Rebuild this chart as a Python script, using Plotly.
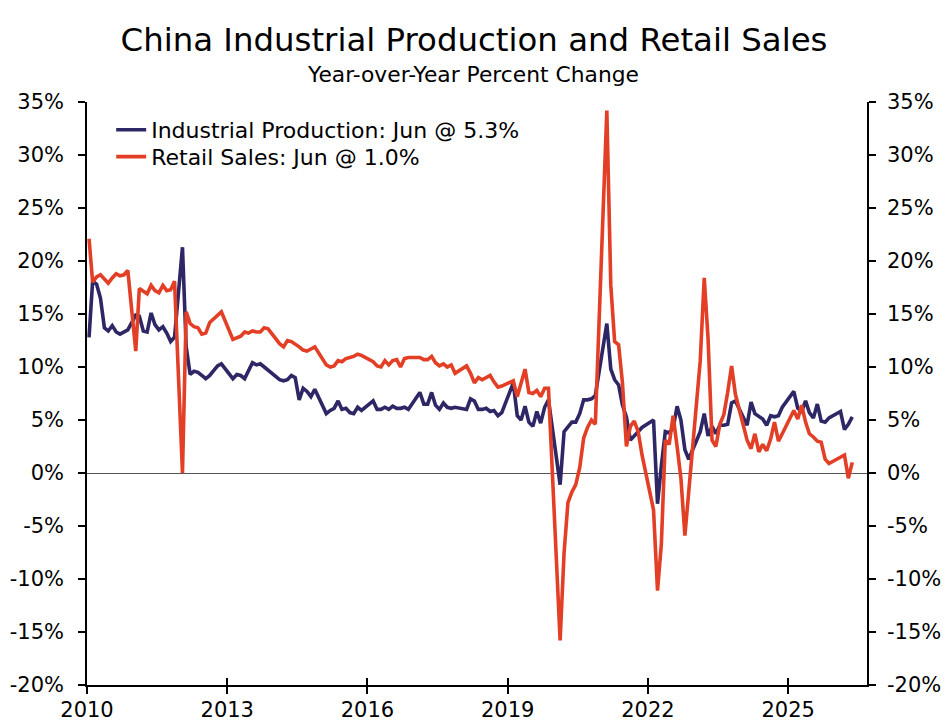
import pandas as pd
import plotly.graph_objects as go

# monthly observations, Jan 2010 .. Jun 2026 (None = not reported)
months = pd.date_range("2010-01-01", "2026-06-01", freq="MS")

industrial_production = [
    None, 12.8, 18.1, 17.8, 16.5, 13.7, 13.4, 13.9, 13.3, 13.1, 13.3, 13.5,  # 2010
    None, 14.9, 14.8, 13.4, 13.3, 15.1, 14.0, 13.5, 13.8, 13.2, 12.4, 12.8,  # 2011
    None, 21.3, 11.9, 9.3, 9.6, 9.5, 9.2, 8.9, 9.2, 9.6, 10.1, 10.3,  # 2012
    None, None, 8.9, 9.3, 9.2, 8.9, 9.7, 10.4, 10.2, 10.3, 10.0, 9.7,  # 2013
    None, None, 8.8, 8.7, 8.8, 9.2, 9.0, 6.9, 8.0, 7.7, 7.2, 7.9,  # 2014
    None, None, 5.6, 5.9, 6.1, 6.8, 6.0, 6.1, 5.7, 5.6, 6.2, 5.9,  # 2015
    None, None, 6.8, 6.0, 6.0, 6.2, 6.0, 6.3, 6.1, 6.1, 6.2, 6.0,  # 2016
    None, None, 7.6, 6.5, 6.5, 7.6, 6.4, 6.0, 6.6, 6.2, 6.1, 6.2,  # 2017
    None, None, 6.0, 7.0, 6.8, 6.0, 6.0, 6.1, 5.8, 5.9, 5.4, 5.7,  # 2018
    None, None, 8.5, 5.4, 5.0, 6.3, 4.8, 4.4, 5.8, 4.7, 6.2, 6.9,  # 2019
    None, None, -1.1, 3.9, 4.4, 4.8, 4.8, 5.6, 6.9, 6.9, 7.0, 7.3,  # 2020
    None, None, 14.1, 9.8, 8.8, 8.3, 6.4, 5.3, 3.1, 3.5, 3.8, 4.3,  # 2021
    None, None, 5.0, -2.9, 0.7, 3.9, 3.8, 4.2, 6.3, 5.0, 2.2, 1.3,  # 2022
    None, None, 3.9, 5.6, 3.5, 4.4, 3.7, 4.5, 4.5, 4.6, 6.6, 6.8,  # 2023
    None, None, 4.5, 6.7, 5.6, 5.3, 5.1, 4.5, 5.4, 5.3, 5.4, 6.2,  # 2024
    None, None, 7.7, 6.1, 5.8, 6.8, 5.7, 5.2, 6.5, 4.9, 4.8, 5.2,  # 2025
    None, None, 5.8, 4.1, 4.6, 5.3,  # 2026
]

retail_sales = [
    None, 22.1, 18.0, 18.5, 18.7, 18.3, 17.9, 18.4, 18.8, 18.6, 18.7, 19.1,  # 2010
    None, 11.5, 17.4, 17.1, 16.9, 17.7, 17.2, 17.0, 17.7, 17.2, 17.3, 18.1,  # 2011
    None, 0.0, 15.2, 14.1, 13.8, 13.7, 13.1, 13.2, 14.2, 14.5, 14.9, 15.2,  # 2012
    None, None, 12.6, 12.8, 12.9, 13.3, 13.2, 13.4, 13.3, 13.3, 13.7, 13.6,  # 2013
    None, None, 12.2, 11.9, 12.5, 12.4, 12.2, 11.9, 11.6, 11.5, 11.7, 11.9,  # 2014
    None, None, 10.2, 10.0, 10.1, 10.6, 10.5, 10.8, 10.9, 11.0, 11.2, 11.1,  # 2015
    None, None, 10.5, 10.1, 10.0, 10.6, 10.2, 10.6, 10.7, 10.0, 10.8, 10.9,  # 2016
    None, None, 10.9, 10.7, 10.7, 11.0, 10.4, 10.1, 10.3, 10.0, 10.2, 9.4,  # 2017
    None, None, 10.1, 9.4, 8.5, 9.0, 8.8, 9.0, 9.2, 8.6, 8.1, 8.2,  # 2018
    None, None, 8.7, 7.2, 8.6, 9.8, 7.6, 7.5, 7.8, 7.2, 8.0, 8.0,  # 2019
    None, None, -15.8, -7.5, -2.8, -1.8, -1.1, 0.5, 3.3, 4.3, 5.0, 4.6,  # 2020
    None, None, 34.2, 17.7, 12.4, 12.1, 8.5, 2.5, 4.4, 4.9, 3.9, 1.7,  # 2021
    None, None, -3.5, -11.1, -6.7, 3.1, 2.7, 5.4, 2.5, -0.5, -5.9, -1.8,  # 2022
    None, None, 10.6, 18.4, 12.7, 3.1, 2.5, 4.6, 5.5, 7.6, 10.1, 7.4,  # 2023
    None, None, 3.1, 2.3, 3.7, 2.0, 2.7, 2.1, 3.2, 4.8, 3.0, 3.7,  # 2024
    None, None, 5.9, 5.1, 6.4, 4.8, 3.7, 3.4, 3.0, 2.9, 1.3, 0.9,  # 2025
    None, None, 1.5, 1.7, -0.5, 1.0,  # 2026
]

year_ticks = ["2010-01-01", "2013-01-01", "2016-01-01", "2019-01-01", "2022-01-01", "2025-01-01"]
year_labels = ["2010", "2013", "2016", "2019", "2022", "2025"]
pct_ticks = [-20, -15, -10, -5, 0, 5, 10, 15, 20, 25, 30, 35]
pct_labels = ["-20%", "-15%", "-10%", "-5%", "0%", "5%", "10%", "15%", "20%", "25%", "30%", "35%"]

NAVY = "#2e2766"
RED = "#e23f26"
FONT = "DejaVu Sans"
x_range = ["2010-01-01", "2026-09-09"]
y_range = [-20, 35]

# the source plots each month about half a month before its first day
plot_dates = months - pd.Timedelta(days=15)

fig = go.Figure()
fig.add_trace(go.Scatter(
    x=plot_dates, y=industrial_production, mode="lines", connectgaps=True,
    name="Industrial Production: Jun @ 5.3%",
    line=dict(color=NAVY, width=3.6),
    legend="legend",
))
fig.add_trace(go.Scatter(
    x=plot_dates, y=retail_sales, mode="lines", connectgaps=True,
    name="Retail Sales: Jun @ 1.0%",
    line=dict(color=RED, width=3.6),
    xaxis="x2", yaxis="y2", legend="legend2",
))

tick_font = dict(family=FONT, size=21, color="black")
tick_style = dict(ticklen=7, tickwidth=1.5, tickcolor="black", showgrid=False, automargin=False)
legend_style = dict(
    x=0.031, xanchor="left", yanchor="middle",
    font=dict(family=FONT, size=22, color="black"),
    bgcolor="rgba(0,0,0,0)",
)

fig.update_layout(
    width=948, height=726,
    margin=dict(l=87, r=81, t=102, b=41, autoexpand=False),
    paper_bgcolor="white", plot_bgcolor="white",
    font=dict(family=FONT, color="black"),
    title=dict(
        text="China Industrial Production and Retail Sales",
        font=dict(family=FONT, size=32.4, color="black"),
        x=0.5, xref="container", xanchor="center",
        y=0.945, yref="container", yanchor="middle",
    ),
    annotations=[dict(
        text="Year-over-Year Percent Change",
        font=dict(family=FONT, size=21.8, color="black"),
        x=0.495, y=1.048, xref="paper", yref="paper",
        xanchor="center", yanchor="middle", showarrow=False,
    )],
    showlegend=True,
    legend=dict(y=0.952, **legend_style),
    legend2=dict(y=0.906, **legend_style),
    xaxis=dict(
        type="date", range=x_range, tickvals=year_ticks, ticktext=year_labels,
        ticks="outside", showline=True, linecolor="black", linewidth=1.5,
        zeroline=False, tickfont=tick_font, ticklabelstandoff=-2, **tick_style,
    ),
    xaxis2=dict(
        type="date", range=x_range, tickvals=year_ticks, overlaying="x", anchor="y",
        ticks="inside", showticklabels=False, showline=False, zeroline=False, **tick_style,
    ),
    yaxis=dict(
        range=y_range, tickvals=pct_ticks, ticktext=pct_labels,
        ticks="outside", showline=True, linecolor="black", linewidth=1.5,
        zeroline=True, zerolinecolor="#555555", zerolinewidth=1.2,
        tickfont=tick_font, ticklabelstandoff=10, **tick_style,
    ),
    yaxis2=dict(
        range=y_range, tickvals=pct_ticks, ticktext=pct_labels,
        overlaying="y", side="right", anchor="x",
        ticks="outside", showline=True, linecolor="black", linewidth=1.5,
        zeroline=False, tickfont=tick_font, ticklabelstandoff=7, **tick_style,
    ),
    yaxis3=dict(
        range=y_range, tickvals=pct_ticks, overlaying="y", side="left", anchor="x",
        ticks="inside", showticklabels=False, showline=False, zeroline=False, **tick_style,
    ),
    yaxis4=dict(
        range=y_range, tickvals=pct_ticks, overlaying="y", side="right", anchor="x",
        ticks="inside", showticklabels=False, showline=False, zeroline=False, **tick_style,
    ),
)

# page body margin would otherwise offset the fixed-size figure
fig.write_html(
    "out.html",
    config={"displayModeBar": False},
    post_script="document.body.style.margin = '0';",
)
